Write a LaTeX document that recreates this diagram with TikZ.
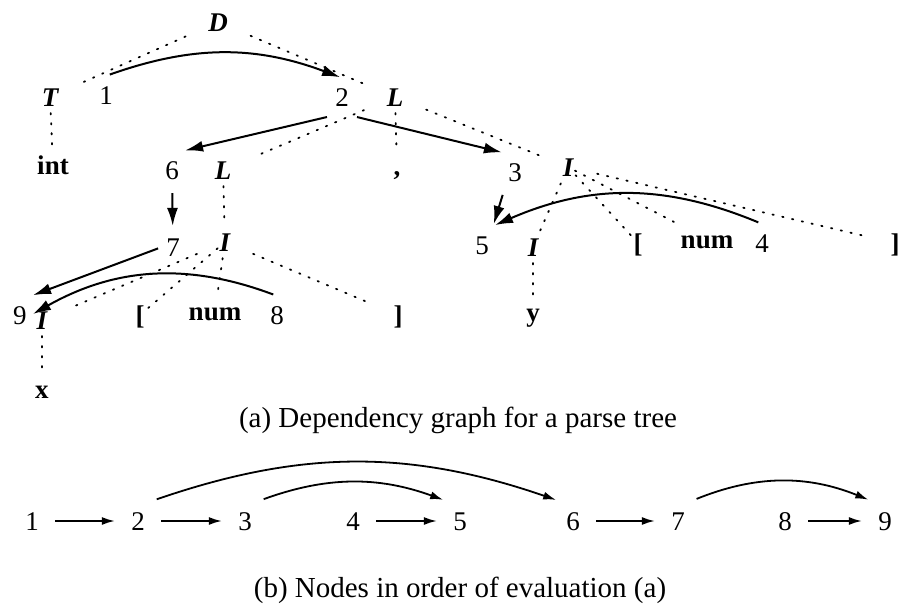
\documentclass[tikz,border=0pt]{standalone}
\usepackage{fontspec}
\setmainfont{Liberation Serif}
\usetikzlibrary{arrows.meta,positioning}

\tikzset{
	lbl/.style={inner sep=2pt, text height=12pt, text depth=2.7pt,
		font=\fontsize{13.5}{15}\selectfont},
	attr/.style={lbl},
	nonterm/.style={lbl, font=\fontsize{13.5}{15}\selectfont\bfseries\itshape},
	term/.style={lbl, font=\fontsize{13.5}{15}\selectfont\bfseries},
	caption/.style={inner sep=0pt, font=\fontsize{14.5}{16}\selectfont},
	tree/.style={line width=0.9pt, dash pattern=on 0.7pt off 4.3pt,
		line cap=round, shorten <=-1.5pt, shorten >=-1.5pt},
	slant/.style={shorten <=10pt, shorten >=10pt},
	dep/.style={line width=1pt, -{Latex[length=9pt,width=5.5pt]},
		shorten <=2pt, shorten >=1pt},
	order/.style={line width=0.9pt, -{Latex[length=6.5pt,width=4pt]}}
}

\begin{document}
\begin{tikzpicture}[x=0.5pt,y=-0.5pt]
	\useasboundingbox (0,0) rectangle (899,604);
	
	\begin{scope}[shift={(0,0)}]
	%Baum
	\node[nonterm] (D) at (218,22) {D};
	\node[nonterm] (T) at (50,97) {T};
	\node[attr] (a1) at (106,95) {1};
	\node[attr] (a2) at (342,97) {2};
	\node[nonterm] (L1) at (395,97) {L};
	
	\node[term] (int) at (53,165) {int};
	\node[attr] (a6) at (172,170) {6};
	\node[nonterm] (L2) at (223,170) {L};
	\node[term] (komma) at (397,166) {,};
	\node[attr] (a3) at (515,172) {3};
	\node[nonterm] (I1) at (568,167) {I};
	
	\node[attr] (a7) at (173,247) {7};
	\node[nonterm] (I2) at (225,242) {I};
	\node[attr] (a5) at (482,245) {5};
	\node[nonterm] (I3) at (533,247) {I};
	\node[term] (lk1) at (638,243) {[};
	\node[term] (num1) at (707,239) {num};
	\node[attr] (a4) at (762,243) {4};
	\node[term] (rk1) at (895,243) {]};
	
	\node[attr] (a9) at (20,315) {9};
	\node[nonterm] (I4) at (42,320) {I};
	\node[term] (lk2) at (140,315) {[};
	\node[term] (num2) at (215,311) {num};
	\node[attr] (a8) at (277,315) {8};
	\node[term] (rk2) at (398,315) {]};
	\node[term] (y) at (533,312) {y};
	\node[term] (x) at (42,389) {x};
	
	\draw[tree,slant] (D) -- (T);
	\draw[tree,slant] (D) -- (L1);
	\draw[tree] (T) -- (int);
	\draw[tree,slant] (L1) -- (L2);
	\draw[tree] (L1) -- (komma);
	\draw[tree,slant] (L1) -- (I1);
	\draw[tree] (L2) -- (I2);
	\draw[tree,slant] (I2) -- (I4);
	\draw[tree] (I2) -- (lk2);
	\draw[tree] (I2) -- (num2);
	\draw[tree,slant] (I2) -- (rk2);
	\draw[tree] (I4) -- (x);
	\draw[tree] (I1) -- (I3);
	\draw[tree] (I1) -- (lk1);
	\draw[tree] (I1) -- (num1);
	\draw[tree,slant] (I1) -- (rk1);
	\draw[tree] (I3) -- (y);
	
	%Abhaengigkeiten
	\draw[dep] (a1.north) to[bend left=20] (a2.north);
	\draw[dep] (a2.south west) -- (a6.north east);
	\draw[dep] (a2.south east) -- (a3.north west);
	\draw[dep] (a6) -- (a7);
	\draw[dep] (a3.south west) -- (a5.north east);
	\draw[dep] (a4.north) to[bend right=23] (a5.north east);
	\draw[dep] (a7.west) -- (a9.north east);
	\draw[dep] (a8.north) to[bend right=25] (a9.east);
	
	\node[caption] (capa) at (458,420) {(a) Dependency graph for a parse tree};
	\end{scope}
	
	\begin{scope}[shift={(0,521)}]
	%Reihenfolge
	\node[attr] (b1) at (32,0) {1};
	\node[attr] (b2) at (138,0) {2};
	\node[attr] (b3) at (245,0) {3};
	\node[attr] (b4) at (353,0) {4};
	\node[attr] (b5) at (460,0) {5};
	\node[attr] (b6) at (573,0) {6};
	\node[attr] (b7) at (678,0) {7};
	\node[attr] (b8) at (785,0) {8};
	\node[attr] (b9) at (885,0) {9};
	
	\draw[order, shorten <=6pt, shorten >=6pt] (b1) -- (b2);
	\draw[order, shorten <=6pt, shorten >=6pt] (b2) -- (b3);
	\draw[order, shorten <=6pt, shorten >=6pt] (b4) -- (b5);
	\draw[order, shorten <=6pt, shorten >=6pt] (b6) -- (b7);
	\draw[order, shorten <=6pt, shorten >=6pt] (b8) -- (b9);
	
	\draw[order, shorten <=4pt, shorten >=3pt] (b2.north east) to[bend left=19] (b6.north west);
	\draw[order, shorten <=4pt, shorten >=3pt] (b3.north east) to[bend left=20] (b5.north west);
	\draw[order, shorten <=4pt, shorten >=3pt] (b7.north east) to[bend left=22] (b9.north west);
	
	\node[caption] (capb) at (460,69) {(b) Nodes in order of evaluation (a)};
	\end{scope}
	
\end{tikzpicture}
\end{document}
